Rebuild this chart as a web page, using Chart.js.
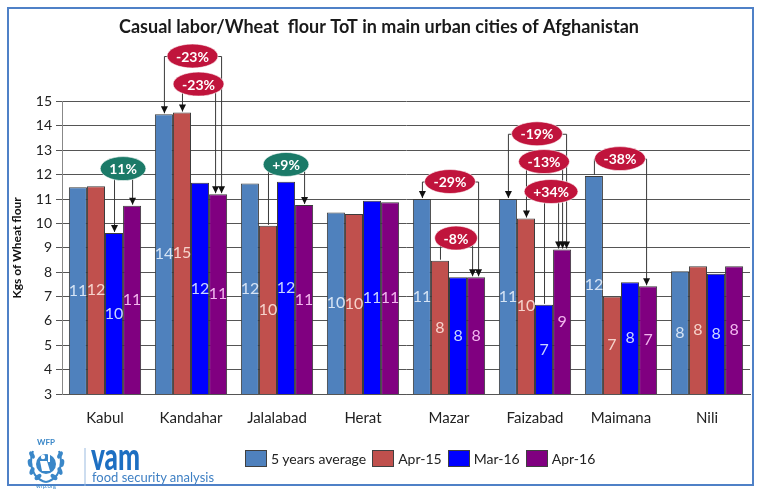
<!DOCTYPE html>
<html>
<head>
<meta charset="utf-8">
<script src="https://cdn.jsdelivr.net/npm/chart.js@4"></script>
<style>
    body { margin: 0; background: #fff; font-family: Lato, "Open Sans", sans-serif; }
    #wrap { position: relative; width: 760px; height: 491px; }
    #frame { position: absolute; left: 7px; top: 7px; width: 743px; height: 475px; border: 2px solid #4f81c7; pointer-events: none; }
    #legend { position: absolute; left: 245px; top: 450px; display: flex; align-items: center; font-size: 14px; color: #222; }
    #legend span.box { display: inline-block; width: 20px; height: 15px; border: 1px solid #404040; margin-right: 4px; }
    #legend .item { display: flex; align-items: center; margin-right: 6px; }
    #logo { position: absolute; left: 22px; top: 436px; width: 200px; height: 54px; }
</style>
</head>
<body>
<div id="wrap">
    <canvas id="chart" width="760" height="491"></canvas>
    <div id="frame"></div>
    <div id="legend"></div>
    <svg id="logo" width="200" height="54" viewBox="0 0 200 54">
        <text x="24" y="9" font-family="Lato" font-weight="bold" font-size="8" fill="#3a87c8" text-anchor="middle">WFP</text>
        <g fill="none" stroke="#3a87c8" stroke-width="2">
            <path d="M11 15 Q6 28 13 39 Q18 45 24 46" />
            <path d="M37 15 Q42 28 35 39 Q30 45 24 46" />
        </g>
        <g fill="#3a87c8">
            <ellipse cx="10" cy="19" rx="2.2" ry="4" transform="rotate(-30 10 19)" />
            <ellipse cx="8" cy="27" rx="2.2" ry="4" transform="rotate(-10 8 27)" />
            <ellipse cx="10" cy="35" rx="2.2" ry="4" transform="rotate(20 10 35)" />
            <ellipse cx="16" cy="41" rx="2.2" ry="4" transform="rotate(50 16 41)" />
            <ellipse cx="38" cy="19" rx="2.2" ry="4" transform="rotate(30 38 19)" />
            <ellipse cx="40" cy="27" rx="2.2" ry="4" transform="rotate(10 40 27)" />
            <ellipse cx="38" cy="35" rx="2.2" ry="4" transform="rotate(-20 38 35)" />
            <ellipse cx="32" cy="41" rx="2.2" ry="4" transform="rotate(-50 32 41)" />
            <circle cx="24" cy="28" r="10" />
        </g>
        <g fill="#fff">
            <circle cx="21" cy="21" r="2.2" />
            <path d="M18 25 L25 25 L28 35 L20 35 Z" />
            <path d="M26 18 L28 18 L28 26 L26 26 Z" />
        </g>
        <text x="24" y="52" font-family="Lato" font-size="6" fill="#3a87c8" text-anchor="middle">wfp.org</text>
        <line x1="63" y1="12" x2="63" y2="50" stroke="#9bbbe0" stroke-width="1" />
        <text x="69" y="34" font-family="Lato" font-weight="900" font-size="38" fill="#1d6fc2" textLength="49" lengthAdjust="spacingAndGlyphs">vam</text>
        <text x="70" y="46" font-family="Lato" font-size="13" fill="#3f80c4">food security analysis</text>
    </svg>
</div>
<script>
const cities = ["Kabul", "Kandahar", "Jalalabad", "Herat", "Mazar", "Faizabad", "Maimana", "Nili"];
const seriesNames = ["5 years average", "Apr-15", "Mar-16", "Apr-16"];
const avg5y = [11.49, 14.48, 11.64, 10.45, 11.0, 11.0, 11.95, 8.04];
const apr15 = [11.53, 14.55, 9.9, 10.39, 8.47, 10.2, 7.0, 8.24];
const mar16 = [9.61, 11.67, 11.71, 10.93, 7.79, 6.66, 7.59, 7.93];
const apr16 = [10.73, 11.2, 10.76, 10.87, 7.79, 8.93, 7.42, 8.24];
const yTicks = [3, 4, 5, 6, 7, 8, 9, 10, 11, 12, 13, 14, 15];

const barColors = ["#4f81bd", "#c0504d", "#0000ff", "#800080"];
const labelColors = ["#d6e4f5", "#f6d3cc", "#c9d6ff", "#f2b6ee"];

// change bubbles: from series -> to series, bubble level in kg
const changes = [
    { city: "Kabul", from: 2, to: 3, text: "11%", level: 12.25, color: "#1b7a68", arrowFrom: true, dxTo: 0 },
    { city: "Kandahar", from: 0, to: 3, text: "-23%", level: 16.87, color: "#c0143c", arrowFrom: true, dxTo: 3 },
    { city: "Kandahar", from: 1, to: 3, text: "-23%", level: 15.72, color: "#c0143c", arrowFrom: true, dxTo: -3 },
    { city: "Jalalabad", from: 1, to: 3, text: "+9%", level: 12.42, color: "#1b7a68", arrowFrom: false, dxTo: 0 },
    { city: "Mazar", from: 0, to: 3, text: "-29%", level: 11.72, color: "#c0143c", arrowFrom: true, dxTo: 2 },
    { city: "Mazar", from: 1, to: 3, text: "-8%", level: 9.4, color: "#c0143c", arrowFrom: false, dxTo: -4 },
    { city: "Faizabad", from: 0, to: 3, text: "-19%", level: 13.68, color: "#c0143c", arrowFrom: true, dxTo: 4 },
    { city: "Faizabad", from: 1, to: 3, text: "-13%", level: 12.54, color: "#c0143c", arrowFrom: true, dxTo: 0 },
    { city: "Faizabad", from: 2, to: 3, text: "+34%", level: 11.31, color: "#c0143c", arrowFrom: false, dxTo: -4 },
    { city: "Maimana", from: 0, to: 3, text: "-38%", level: 12.66, color: "#c0143c", arrowFrom: false, dxTo: -2 }
];

// html legend
const legend = document.getElementById("legend");
seriesNames.forEach((name, i) => {
    legend.innerHTML += `<div class="item"><span class="box" style="background:${barColors[i]}"></span>${name}</div>`;
});

// value labels in the middle of the visible part of each bar
const barLabels = {
    id: "barLabels",
    afterDatasetsDraw(chart) {
        const ctx = chart.ctx;
        const bottom = chart.chartArea.bottom;
        ctx.save();
        ctx.font = "16px Lato";
        ctx.textAlign = "center";
        ctx.textBaseline = "middle";
        chart.data.datasets.forEach((ds, di) => {
            chart.getDatasetMeta(di).data.forEach((bar, i) => {
                ctx.fillStyle = labelColors[di];
                ctx.fillText(Math.round(ds.data[i]), bar.x, (bar.y + Math.min(bar.base, bottom)) / 2);
            });
        });
        ctx.restore();
    }
};

function arrowDown(ctx, x, y) {
    ctx.beginPath();
    ctx.moveTo(x, y - 1);
    ctx.lineTo(x - 3.5, y - 8);
    ctx.lineTo(x + 3.5, y - 8);
    ctx.closePath();
    ctx.fill();
}

// change brackets with oval bubbles
const changeBubbles = {
    id: "changeBubbles",
    afterDraw(chart) {
        const ctx = chart.ctx;
        const yScale = chart.scales.y;
        ctx.save();
        changes.forEach(c => {
            const i = cities.indexOf(c.city);
            const b1 = chart.getDatasetMeta(c.from).data[i];
            const b2 = chart.getDatasetMeta(c.to).data[i];
            const x1 = b1.x, x2 = b2.x + c.dxTo;
            const ly = yScale.getPixelForValue(c.level);
            ctx.strokeStyle = "#3a3a3a";
            ctx.fillStyle = "#111";
            ctx.lineWidth = 1;
            ctx.beginPath();
            ctx.moveTo(x1 + 0.5, b1.y - 1);
            ctx.lineTo(x1 + 0.5, ly + 0.5);
            ctx.lineTo(x2 + 0.5, ly + 0.5);
            ctx.lineTo(x2 + 0.5, b2.y - 1);
            ctx.stroke();
            if (c.arrowFrom) arrowDown(ctx, x1 + 0.5, b1.y);
            arrowDown(ctx, x2 + 0.5, b2.y);

            ctx.font = "bold 14px Lato";
            const w = ctx.measureText(c.text).width + 18;
            const cx = (x1 + x2) / 2;
            ctx.fillStyle = c.color;
            ctx.beginPath();
            ctx.ellipse(cx, ly, w / 2, 12, 0, 0, Math.PI * 2);
            ctx.fill();
            ctx.strokeStyle = "rgba(255,255,255,0.6)";
            ctx.stroke();
            ctx.fillStyle = "#fff";
            ctx.textAlign = "center";
            ctx.textBaseline = "middle";
            ctx.fillText(c.text, cx, ly + 1);
        });
        ctx.restore();
    }
};

const seriesData = [avg5y, apr15, mar16, apr16];

new Chart(document.getElementById("chart"), {
    type: "bar",
    data: {
        labels: cities,
        datasets: seriesNames.map((name, i) => ({
            label: name,
            data: seriesData[i],
            backgroundColor: barColors[i],
            borderColor: "#3c3c3c",
            borderWidth: 1,
            barPercentage: 1,
            categoryPercentage: 0.84
        }))
    },
    options: {
        responsive: false,
        animation: false,
        layout: { padding: { left: 8, right: 10, top: 0, bottom: 67 } },
        plugins: {
            legend: { display: false },
            tooltip: { enabled: false },
            title: {
                display: true,
                text: "Casual labor/Wheat  flour ToT in main urban cities of Afghanistan",
                color: "#1a1a1a",
                font: { family: "Lato", size: 18, weight: "bold" },
                padding: { top: 16, bottom: 64 }
            }
        },
        scales: {
            x: {
                grid: { display: false },
                border: { color: "#555" },
                ticks: { color: "#222", font: { family: "Lato", size: 15 }, padding: 7 },
                afterFit(scale) { scale.height = 30; }
            },
            y: {
                min: 3,
                max: 15,
                afterBuildTicks(scale) { scale.ticks = yTicks.map(v => ({ value: v })); },
                grid: { color: "#555", tickLength: 6 },
                border: { color: "#888" },
                ticks: { color: "#222", font: { family: "Lato", size: 14 }, padding: 4 },
                title: {
                    display: true,
                    text: "Kgs of Wheat flour",
                    color: "#111",
                    font: { family: "Lato", size: 12, weight: "bold" },
                    padding: 2
                },
                afterFit(scale) { scale.width = 54; }
            }
        }
    },
    plugins: [barLabels, changeBubbles]
});
</script>
</body>
</html>
